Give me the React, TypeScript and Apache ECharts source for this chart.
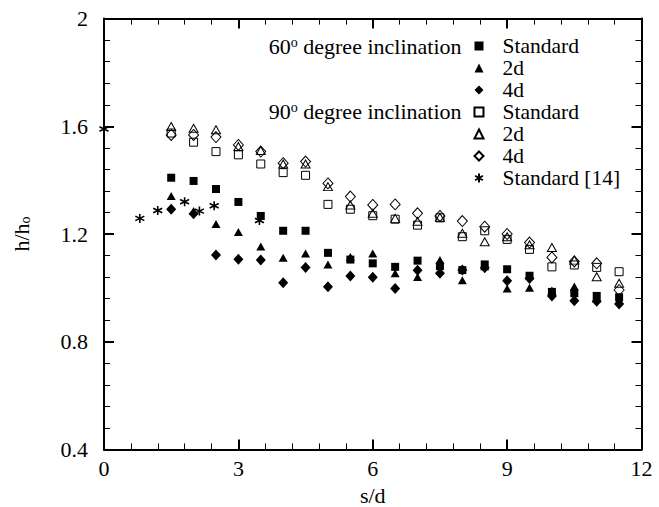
import React, { useEffect, useRef } from "react";
import * as echarts from "echarts";

const FONT = "Liberation Serif";

// s/d positions of the measured data
const sd = [1.5, 2, 2.5, 3, 3.5, 4, 4.5, 5, 5.5, 6, 6.5, 7, 7.5, 8, 8.5, 9, 9.5, 10, 10.5, 11, 11.5];

const std60 = [1.409, 1.397, 1.367, 1.319, 1.267, 1.212, 1.212, 1.13, 1.105, 1.091, 1.078, 1.101, 1.081, 1.066, 1.087, 1.069, 1.045, 0.985, 0.98, 0.97, 0.965];
const d2_60 = [1.341, 1.285, 1.237, 1.207, 1.154, 1.112, 1.128, 1.087, 1.115, 1.128, 1.054, 1.04, 1.103, 1.028, 1.08, 0.998, 1.0, 0.99, 1.005, 0.96, 0.955];
const d4_60 = [1.292, 1.275, 1.122, 1.106, 1.103, 1.019, 1.076, 1.004, 1.044, 1.039, 0.998, 1.065, 1.054, 1.066, 1.075, 1.026, 1.035, 0.97, 0.952, 0.95, 0.94];

const std90 = [1.575, 1.541, 1.506, 1.494, 1.46, 1.428, 1.418, 1.31, 1.292, 1.268, 1.255, 1.233, 1.26, 1.19, 1.212, 1.18, 1.143, 1.078, 1.085, 1.076, 1.06];
const d2_90 = [1.599, 1.593, 1.587, 1.525, 1.51, 1.46, 1.46, 1.376, 1.308, 1.277, 1.258, 1.247, 1.262, 1.203, 1.171, 1.19, 1.16, 1.15, 1.103, 1.041, 1.017];
const d4_90 = [1.568, 1.568, 1.56, 1.531, 1.506, 1.463, 1.469, 1.388, 1.339, 1.308, 1.31, 1.277, 1.267, 1.248, 1.227, 1.2, 1.168, 1.113, 1.098, 1.091, 0.992];

const refX = [0, 0.8, 1.2, 1.8, 2.13, 2.46, 3.47];
const refY = [1.59, 1.258, 1.287, 1.32, 1.285, 1.305, 1.25];

const xTicks = { min: 0, max: 12, interval: 3 };
const yTicks = { min: 0.4, max: 2, interval: 0.4 };

const seriesNames = ["s60std", "s60d2", "s60d4", "s90std", "s90d2", "s90d4", "ref"];
const legendLabels: Record<string, string> = {
  s60std: "Standard",
  s60d2: "2d",
  s60d4: "4d",
  s90std: "Standard",
  s90d2: "2d",
  s90d4: "4d",
  ref: "Standard [14]",
};

const STAR = "path://M0,-5L0,5M-4.33,-2.5L4.33,2.5M-4.33,2.5L4.33,-2.5";

const pair = (xs: number[], ys: number[]) => xs.map((x, i) => [x, ys[i]]);

export default function App() {
  const ref = useRef<HTMLDivElement>(null);
  useEffect(() => {
    document.body.style.margin = "0";
    if (!ref.current) return;
    const chart = echarts.init(ref.current, null, { renderer: "svg" });

    const axisCommon = {
      type: "value" as const,
      splitLine: { show: false },
      axisLine: { show: true, onZero: false, lineStyle: { color: "#000", width: 2 } },
      axisTick: { show: true, inside: true, length: 10, lineStyle: { color: "#000", width: 2 } },
      minorTick: { show: true, splitNumber: 5, length: 6, lineStyle: { color: "#000", width: 1 } },
    };
    const labelStyle = { fontFamily: FONT, fontSize: 22, color: "#000" };

    const filled = (name: string, symbol: string, size: any, data: number[][]) => ({
      name,
      type: "scatter",
      symbol,
      symbolSize: size,
      data,
      itemStyle: { color: "#000", opacity: 1 },
      xAxisIndex: 0,
      yAxisIndex: 0,
    });
    const open = (name: string, symbol: string, size: any, data: number[][]) => ({
      name,
      type: "scatter",
      symbol,
      symbolSize: size,
      data,
      itemStyle: { color: "rgba(0,0,0,0)", borderColor: "#000", borderWidth: 1, opacity: 1 },
      xAxisIndex: 0,
      yAxisIndex: 0,
    });

    const supRich = { sup: { fontFamily: FONT, fontSize: 14, fill: "#000", verticalAlign: "top" } };

    chart.setOption({
      animation: false,
      backgroundColor: "#fff",
      textStyle: { fontFamily: FONT },
      grid: { left: 104, right: 17.5, top: 18.6, bottom: 57.6, containLabel: false, outerBoundsMode: "none" },
      xAxis: [
        {
          ...axisCommon,
          ...xTicks,
          position: "bottom",
          axisLabel: { ...labelStyle, margin: 8 },
          name: "s/d",
          nameLocation: "middle",
          nameGap: 31,
          nameTextStyle: { ...labelStyle },
        },
        {
          ...axisCommon,
          ...xTicks,
          position: "top",
          axisLabel: { show: false },
        },
      ],
      yAxis: [
        {
          ...axisCommon,
          ...yTicks,
          position: "left",
          axisLabel: { ...labelStyle, margin: 16 },
          name: "h/h{sub|o}",
          nameLocation: "middle",
          nameGap: 72,
          nameTextStyle: {
            ...labelStyle,
            rich: {
              sub: { fontFamily: FONT, fontSize: 14, color: "#000", verticalAlign: "bottom", padding: [8, 0, 0, 0] },
            },
          },
        },
        {
          ...axisCommon,
          ...yTicks,
          position: "right",
          axisLabel: { show: false },
        },
      ],
      legend: {
        orient: "vertical",
        left: 473.5,
        top: 35,
        padding: 0,
        itemWidth: 9,
        itemHeight: 9,
        itemGap: 0,
        selectedMode: false,
        data: seriesNames,
        formatter: (n: string) => "{a|" + legendLabels[n] + "}",
        textStyle: {
          fontFamily: FONT,
          rich: {
            a: { fontFamily: FONT, fontSize: 21.5, lineHeight: 21.7, color: "#000", padding: [0, 0, 0, 14] },
          },
        },
      },
      graphic: [
        {
          type: "text",
          x: 461.5,
          y: 46,
          style: {
            text: "60{sup|o} degree inclination",
            fontFamily: FONT,
            fontSize: 22,
            fill: "#000",
            align: "right",
            verticalAlign: "middle",
            rich: supRich,
          },
        },
        {
          type: "text",
          x: 461.5,
          y: 111,
          style: {
            text: "90{sup|o} degree inclination",
            fontFamily: FONT,
            fontSize: 22,
            fill: "#000",
            align: "right",
            verticalAlign: "middle",
            rich: supRich,
          },
        },
      ],
      series: [
        filled("s60std", "rect", 8, pair(sd, std60)),
        filled("s60d2", "triangle", [9, 8], pair(sd, d2_60)),
        filled("s60d4", "diamond", [10, 11], pair(sd, d4_60)),
        open("s90std", "rect", 8, pair(sd, std90)),
        open("s90d2", "triangle", [9, 8], pair(sd, d2_90)),
        open("s90d4", "diamond", [10, 11], pair(sd, d4_90)),
        {
          name: "ref",
          type: "scatter",
          symbol: STAR,
          symbolSize: 9,
          clip: false,
          data: pair(refX, refY),
          itemStyle: { color: "rgba(0,0,0,0)", borderColor: "#000", borderWidth: 1.6, opacity: 1 },
          xAxisIndex: 0,
          yAxisIndex: 0,
        },
      ],
    });
    return () => chart.dispose();
  }, []);
  return <div ref={ref} style={{ width: 659, height: 507 }} />;
}
